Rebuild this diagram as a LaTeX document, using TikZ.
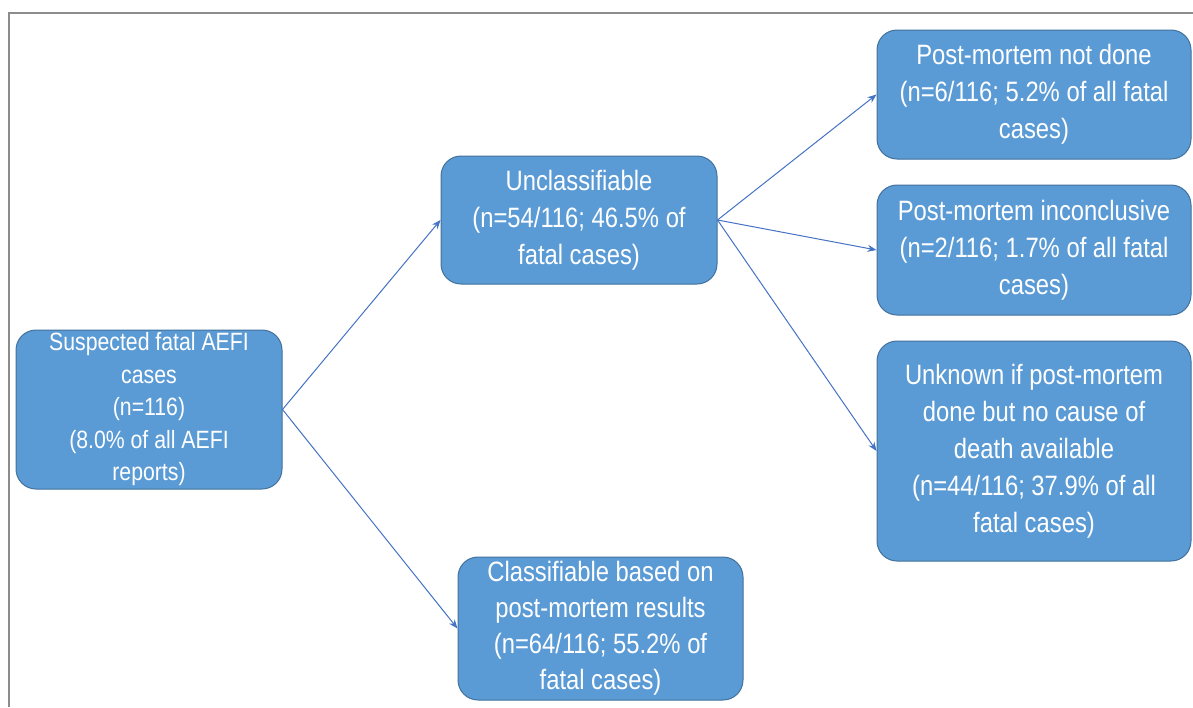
\documentclass[tikz,border=0pt]{standalone}
\usepackage{fontspec}
\setmainfont{Liberation Sans}[FakeStretch=0.85]
\usetikzlibrary{arrows.meta}
\definecolor{boxfill}{HTML}{5B9BD5}
\definecolor{boxdraw}{HTML}{41719C}
\definecolor{arrowcol}{HTML}{4472C4}
\definecolor{framecol}{HTML}{8C8C8C}
\tikzset{
  flowbox/.style={draw=boxdraw, line width=1pt, fill=boxfill, rounded corners=20pt,
    text=white, align=center, inner sep=0pt, font=\fontsize{28}{37}\selectfont},
  flowarrow/.style={draw=arrowcol, line width=1pt, -{Stealth[length=9pt,width=7pt]}}
}
\begin{document}
\begin{tikzpicture}[x=1pt,y=-1pt]
\useasboundingbox (0,0) rectangle (1193,707);
\draw[framecol, line width=2pt] (9,707) -- (9,13) -- (1193,13);
\node[flowbox, minimum width=266pt, minimum height=159pt, font=\fontsize{25}{32.5}\selectfont] (A) at (149,409.5)
  {Suspected fatal AEFI\\cases\\(n=116)\\(8.0\% of all AEFI\\reports)};
\node[flowbox, minimum width=276pt, minimum height=128pt] (B) at (579,220)
  {Unclassifiable\\(n=54/116; 46.5\% of\\fatal cases)};
\node[flowbox, minimum width=285pt, minimum height=143pt, font=\fontsize{28}{36}\selectfont] (C) at (600.5,628.5)
  {Classifiable based on\\post-mortem results\\(n=64/116; 55.2\% of\\fatal cases)};
\node[flowbox, minimum width=314pt, minimum height=129pt] (D) at (1034,94.5)
  {Post-mortem not done\\(n=6/116; 5.2\% of all fatal\\cases)};
\node[flowbox, minimum width=314pt, minimum height=130pt] (E) at (1034,250)
  {Post-mortem inconclusive\\(n=2/116; 1.7\% of all fatal\\cases)};
\node[flowbox, minimum width=314pt, minimum height=220pt] (F) at (1034,451)
  {Unknown if post-mortem\\done but no cause of\\death available\\(n=44/116; 37.9\% of all\\fatal cases)};
\draw[flowarrow] (A.east) -- (B.west);
\draw[flowarrow] (A.east) -- (C.west);
\draw[flowarrow] (B.east) -- (D.west);
\draw[flowarrow] (B.east) -- (E.west);
\draw[flowarrow] (B.east) -- (F.west);
\end{tikzpicture}
\end{document}
